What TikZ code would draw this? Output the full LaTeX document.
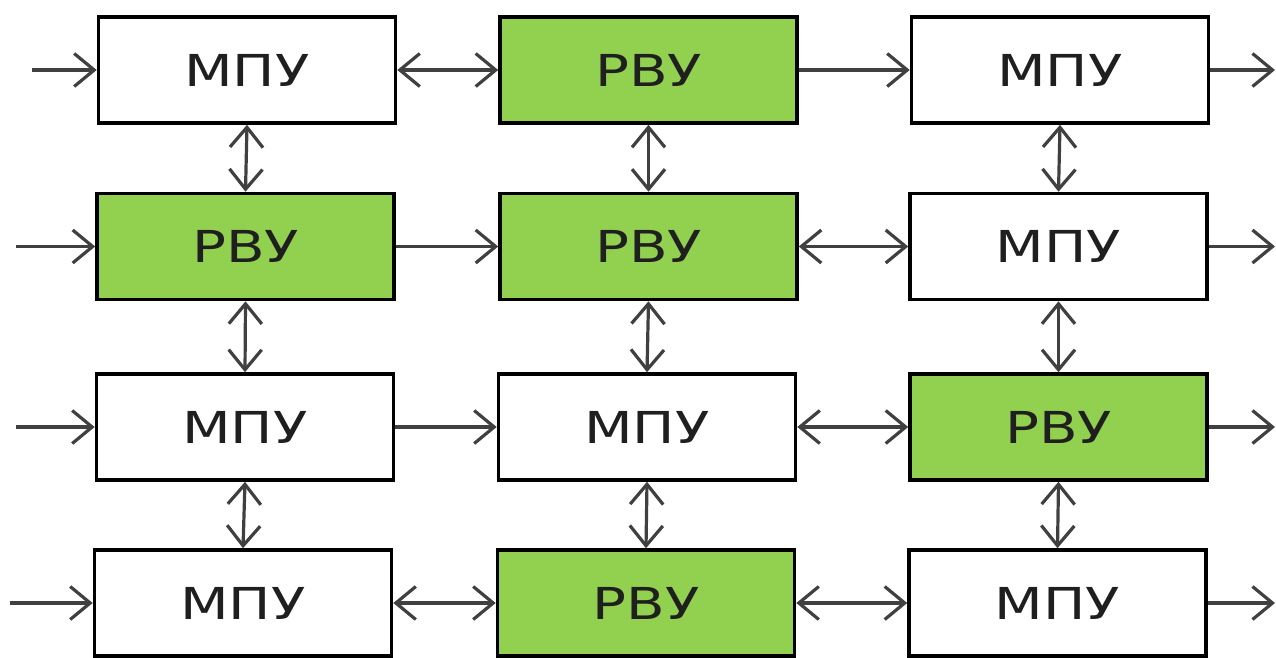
\documentclass[tikz,border=0pt]{standalone}
\usepackage{fontspec}
\newfontfamily\boxfont[FakeStretch=1.28]{DejaVu Sans}
\usetikzlibrary{arrows.meta}
\definecolor{boxgreen}{RGB}{146,208,80}
\definecolor{linegray}{RGB}{64,64,64}
\begin{document}
\begin{tikzpicture}[x=1pt,y=-1pt,
  unit/.style={draw=black, line width=3.6pt, minimum width=297pt, minimum height=106pt, inner sep=0pt,
    font=\boxfont\fontsize{44}{44}\selectfont, text=black!88},
  mpu/.style={unit, fill=white},
  rvu/.style={unit, fill=boxgreen},
  link/.style={draw=linegray, line width=3.2pt},
  bb/.tip={Straight Barb[length=20pt,width=33pt]}
]
\useasboundingbox (0,0) rectangle (1276,657);

% row 1
\node[mpu] (A1) at (247,70) {МПУ};
\node[rvu] (B1) at (648.5,70) {РВУ};
\node[mpu] (C1) at (1060,70) {МПУ};
% row 2
\node[rvu] (A2) at (245.5,246.5) {РВУ};
\node[rvu] (B2) at (648.5,246.5) {РВУ};
\node[mpu] (C2) at (1058.5,246.5) {МПУ};
% row 3
\node[mpu] (A3) at (245,427) {МПУ};
\node[mpu] (B3) at (647,427) {МПУ};
\node[rvu] (C3) at (1058.5,427) {РВУ};
% row 4
\node[mpu] (A4) at (243,603) {МПУ};
\node[rvu] (B4) at (646,603) {РВУ};
\node[mpu] (C4) at (1057.5,603) {МПУ};

% free ends
\coordinate (i1) at (32,70);
\coordinate (i2) at (16,246.5);
\coordinate (i3) at (16,427);
\coordinate (i4) at (10,603);
\coordinate (o1) at (1275,70);
\coordinate (o2) at (1275,246.5);
\coordinate (o3) at (1275,427);
\coordinate (o4) at (1275,603);

% inputs
\draw[link,-bb] (i1) -- (A1.west);
\draw[link,-bb] (i2) -- (A2.west);
\draw[link,-bb] (i3) -- (A3.west);
\draw[link,-bb] (i4) -- (A4.west);
% outputs
\draw[link,-bb] (C1.east) -- (o1);
\draw[link,-bb] (C2.east) -- (o2);
\draw[link,-bb] (C3.east) -- (o3);
\draw[link,-bb] (C4.east) -- (o4);

% horizontal links
\draw[link,bb-bb] (A1.east) -- (B1.west);
\draw[link,-bb] (B1.east) -- (C1.west);
\draw[link,-bb] (A2.east) -- (B2.west);
\draw[link,bb-bb] (B2.east) -- (C2.west);
\draw[link,-bb] (A3.east) -- (B3.west);
\draw[link,bb-bb] (B3.east) -- (C3.west);
\draw[link,bb-bb] (A4.east) -- (B4.west);
\draw[link,bb-bb] (B4.east) -- (C4.west);

% vertical links
\draw[link,bb-bb] (A1.south) -- (A2.north);
\draw[link,bb-bb] (A2.south) -- (A3.north);
\draw[link,bb-bb] (A3.south) -- (A4.north);
\draw[link,bb-bb] (B1.south) -- (B2.north);
\draw[link,bb-bb] (B2.south) -- (B3.north);
\draw[link,bb-bb] (B3.south) -- (B4.north);
\draw[link,bb-bb] (C1.south) -- (C2.north);
\draw[link,bb-bb] (C2.south) -- (C3.north);
\draw[link,bb-bb] (C3.south) -- (C4.north);
\end{tikzpicture}
\end{document}
